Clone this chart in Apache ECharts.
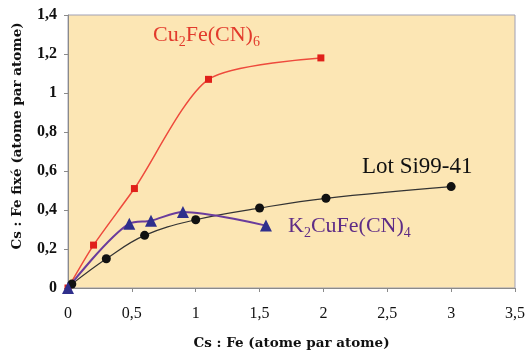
<!DOCTYPE html>
<html><head><meta charset="utf-8">
<script src="https://cdn.jsdelivr.net/npm/echarts@6/dist/echarts.min.js"></script>
<style>html,body{margin:0;padding:0;background:#fff}#c{width:529px;height:351px}</style>
</head><body><div id="c"></div>
<script>
const xTicks = ['0','0,5','1','1,5','2','2,5','3','3,5'];
const yTicks = ['0','0,2','0,4','0,6','0,8','1','1,2','1,4'];
const cuFeX = [0, 0.2, 0.52, 1.1, 1.98];
const cuFeY = [0, 0.22, 0.51, 1.07, 1.18];
const lotX = [0.03, 0.3, 0.6, 1.0, 1.5, 2.02, 3.0];
const lotY = [0.02, 0.15, 0.27, 0.35, 0.41, 0.46, 0.52];
const kX = [0, 0.48, 0.65, 0.9, 1.55];
const kY = [0, 0.33, 0.345, 0.39, 0.32];

const zip = (a,b)=>a.map((v,i)=>[v,b[i]]);
const fmt = v => String(Math.round(v*10)/10).replace('.',',');
const serif = 'Liberation Serif';
const chart = echarts.init(document.getElementById('c'));
chart.setOption({
  animation:false,
  grid:{left:68,right:14,top:15,bottom:63,outerBoundsMode:'none',containLabel:false,show:true,backgroundColor:'#FCE6B4',borderColor:'#A0A0B4',borderWidth:1},
  xAxis:{type:'value',min:0,max:3.5,interval:0.5,
    name:'Cs : Fe (atome par atome)',nameLocation:'middle',nameGap:48,
    nameTextStyle:{fontFamily:'DejaVu Serif',fontWeight:'bold',fontSize:13.5,color:'#111'},
    axisLine:{lineStyle:{color:'#8a8a8a',width:1}},
    axisTick:{show:true,length:4,lineStyle:{color:'#8a8a8a'}},
    axisLabel:{fontFamily:serif,fontSize:16,color:'#111',margin:18,formatter:fmt},
    splitLine:{show:false}},
  yAxis:{type:'value',min:0,max:1.4,interval:0.2,
    axisLine:{show:true,lineStyle:{color:'#8a8a8a',width:1}},
    axisTick:{show:true,length:4,lineStyle:{color:'#8a8a8a'}},
    axisLabel:{fontFamily:serif,fontSize:16,fontWeight:'bold',color:'#111',margin:11,formatter:fmt},
    splitLine:{show:false}},
  graphic:[
    {type:'text',rotation:Math.PI/2,x:17,y:136,
     style:{text:'Cs : Fe fixé (atome par atome)',font:'bold 13.5px "DejaVu Serif"',fill:'#111',align:'center',verticalAlign:'middle'}},
    {type:'text',x:153,y:35,style:{verticalAlign:'middle',rich:{n:{fontFamily:serif,fontSize:22,fill:'#E23A2C'},s:{fontFamily:serif,fontSize:14,fill:'#E23A2C',padding:[14,0,0,0]}},
      text:'{n|Cu}{s|2}{n|Fe(CN)}{s|6}'}},
    {type:'text',x:362,y:167,style:{verticalAlign:'middle',text:'Lot Si99-41',font:'23px "Liberation Serif"',fill:'#111'}},
    {type:'text',x:288,y:226,style:{verticalAlign:'middle',rich:{n:{fontFamily:serif,fontSize:22,fill:'#5E2C86'},s:{fontFamily:serif,fontSize:14,fill:'#5E2C86',padding:[14,0,0,0]}},
      text:'{n|K}{s|2}{n|CuFe(CN)}{s|4}'}}
  ],
  series:[
    {type:'line',data:zip(cuFeX,cuFeY),smooth:0.25,symbol:'rect',symbolSize:7,
     lineStyle:{color:'#EE4A3C',width:1.5},itemStyle:{color:'#E0201A'}},
    {type:'line',data:zip(lotX,lotY),smooth:0.4,symbol:'circle',symbolSize:9,
     lineStyle:{color:'#333',width:1.2},itemStyle:{color:'#111'}},
    {type:'line',data:zip(kX,kY),smooth:0.3,symbol:'triangle',symbolSize:12,
     lineStyle:{color:'#6A3C9C',width:2},itemStyle:{color:'#2F2F8C'}}
  ]
});
</script></body></html>
